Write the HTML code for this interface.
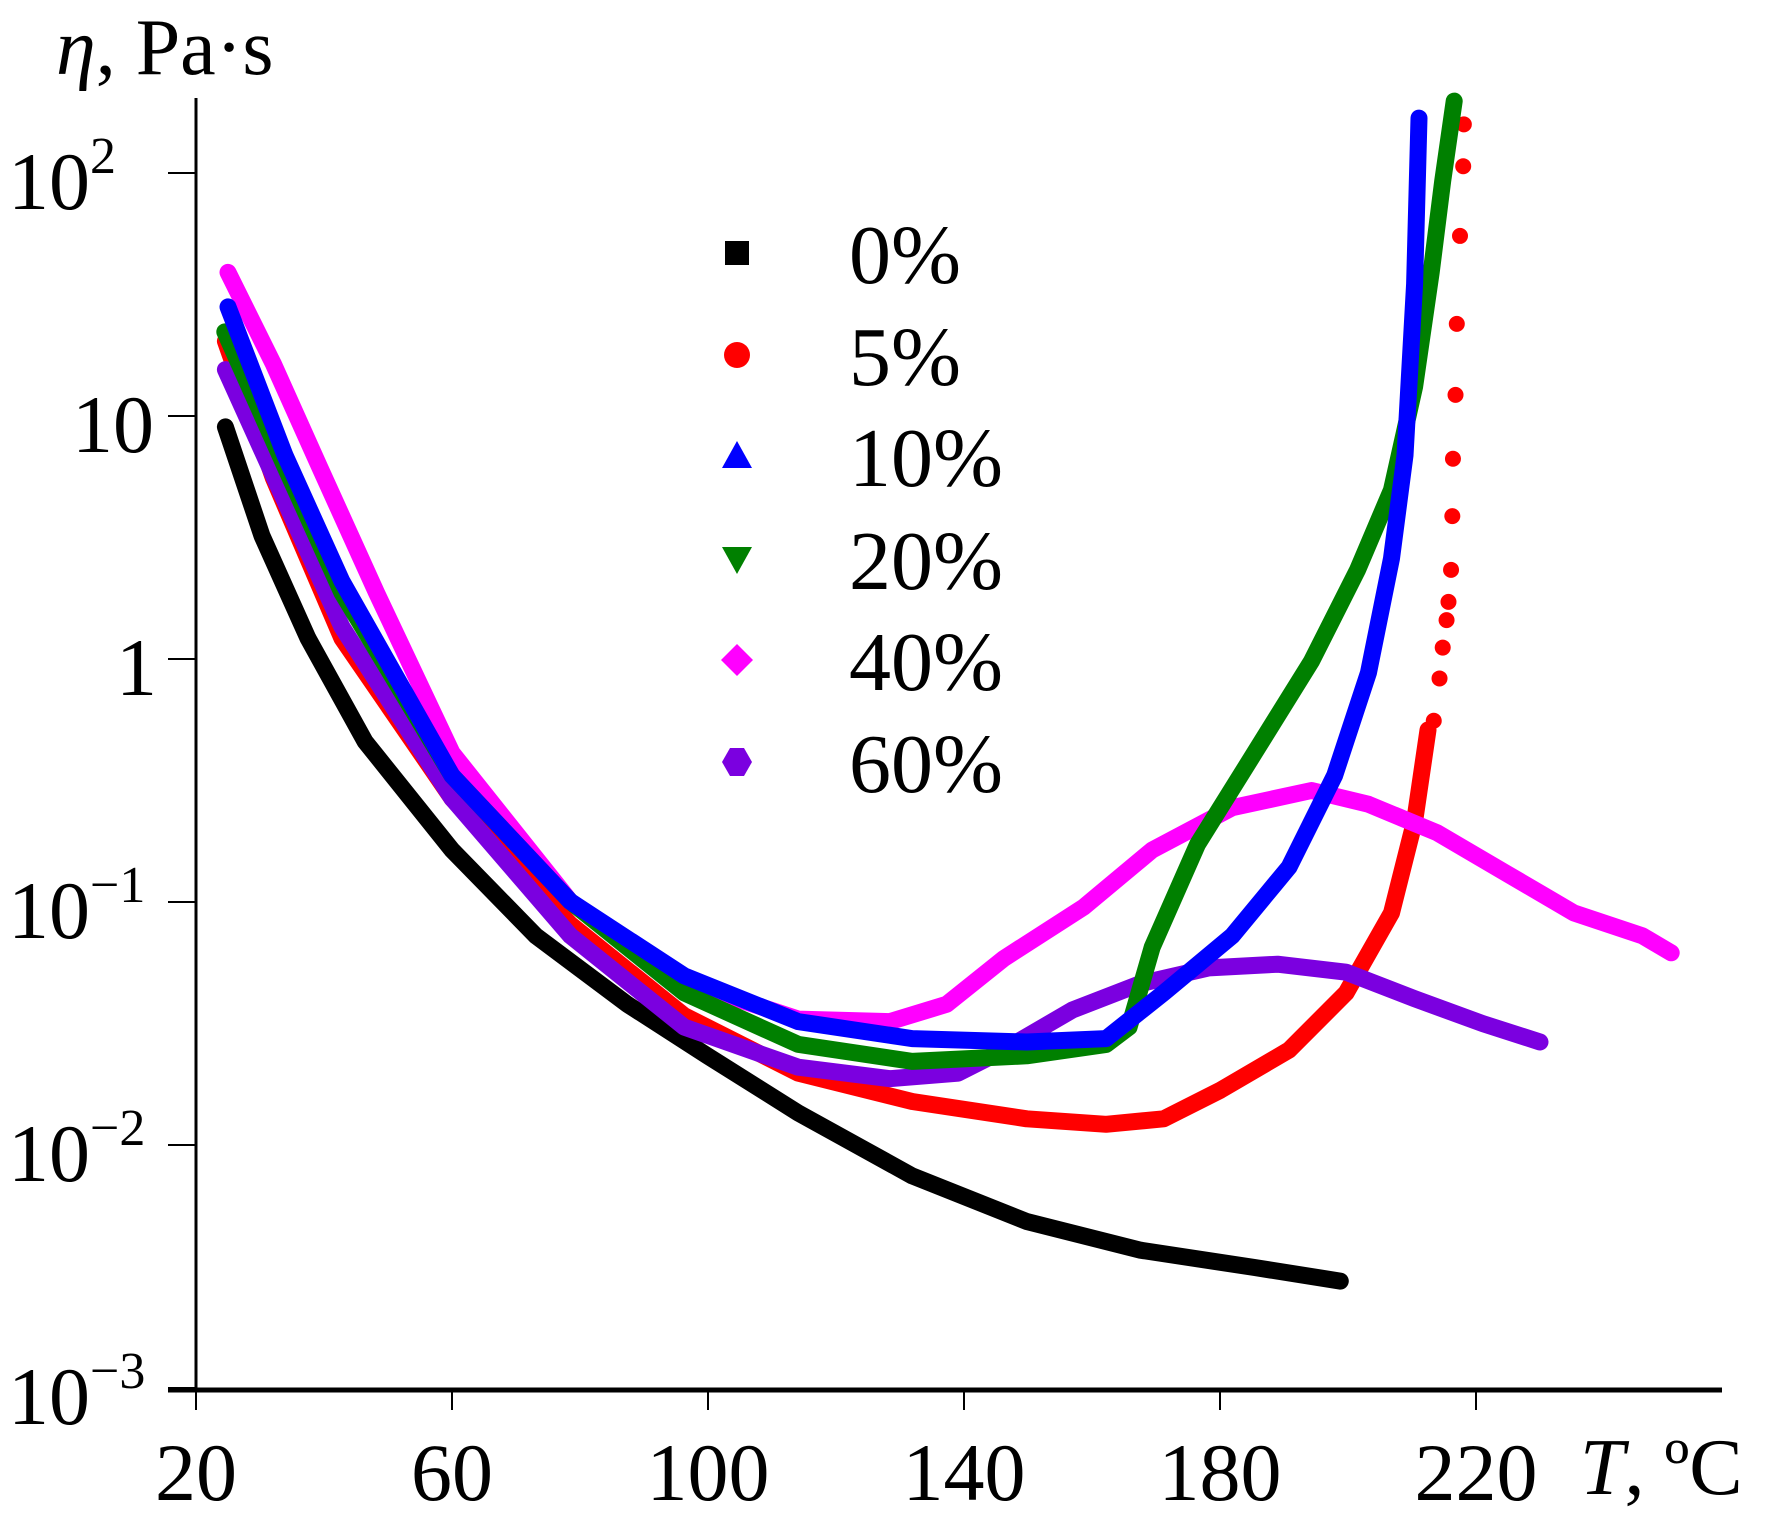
<!DOCTYPE html>
<html><head><meta charset="utf-8"><style>
body{margin:0;background:#fff;}
svg{display:block;font-family:"Liberation Serif",serif;}
</style></head><body>
<svg id="chart" width="1779" height="1528" viewBox="0 0 1779 1528" xmlns="http://www.w3.org/2000/svg">
<text x="56" y="74" font-size="80"><tspan font-style="italic">η</tspan>, Pa·s</text>
<text x="1580" y="1494" font-size="80"><tspan font-style="italic">T</tspan>, ºC</text>
<g id="axes"></g><g id="series"></g><g id="legend"></g>
</svg>
<script>
const xTicks=[20,60,100,140,180,220];
const yTickExp=[2,1,0,-1,-2,-3];
const seriesNames=["0%","5%","10%","20%","40%","60%"];
const seriesColors=["#000000","#ff0000","#0000ff","#008000","#ff00ff","#7b00e0"];
const t0=[24.6,30.3,37.5,46.4,60,73.1,87.4,99.9,114.1,131.9,149.8,167.6,185.4,198.8];
const l0=[0.955,0.508,0.085,-0.339,-0.786,-1.139,-1.421,-1.633,-1.868,-2.127,-2.315,-2.433,-2.504,-2.56];
const t5=[24.6,32.1,42.8,60,78.5,96.3,114.1,131.9,149.8,162.2,171.2,180.1,190.8,199.7,206.8,210.4,212.5];
const l5=[1.308,0.744,0.085,-0.574,-1.092,-1.468,-1.704,-1.821,-1.892,-1.915,-1.892,-1.774,-1.609,-1.374,-1.045,-0.668,-0.292];
const t5dots=[213.4,214.3,214.8,215.4,215.7,216.1,216.3,216.4,216.8,217,217.5,218,218.1];
const l5dots=[-0.254,-0.08,0.047,0.16,0.235,0.367,0.588,0.824,1.087,1.379,1.741,2.028,2.2];
const t10=[25,33.9,42.8,60,78.5,96.3,114.1,131.9,149.8,162.2,171.2,181.9,190.8,197.9,203.2,206.8,208.9,210.4,211.1];
const l10=[1.449,0.838,0.32,-0.48,-0.998,-1.304,-1.492,-1.562,-1.576,-1.562,-1.374,-1.139,-0.856,-0.48,-0.056,0.414,0.838,1.544,2.226];
const t20=[24.5,33.9,42.8,60,78.5,96.3,114.1,131.9,149.8,162.2,165.8,169.4,176.5,185.4,194.3,201.5,206.8,210.4,213,214.8,216.6];
const l20=[1.346,0.791,0.273,-0.48,-0.998,-1.374,-1.586,-1.656,-1.633,-1.586,-1.515,-1.186,-0.762,-0.386,-0.009,0.367,0.696,1.12,1.591,1.967,2.296];
const t40=[25,32.1,39.3,48.2,60,78.5,96.3,114.1,128.4,137.3,146.2,158.7,169.4,181.9,194.3,203.2,213.9,224.6,235.3,246,250.5];
const l40=[1.591,1.214,0.791,0.273,-0.386,-0.998,-1.327,-1.482,-1.492,-1.421,-1.233,-1.021,-0.786,-0.612,-0.541,-0.598,-0.715,-0.88,-1.045,-1.139,-1.209];
const t60=[24.6,33.9,42.8,60,78.5,96.3,114.1,128.4,139.1,146.2,156.9,167.6,178.3,189,199.7,210.4,221.1,230];
const l60=[1.191,0.649,0.132,-0.574,-1.139,-1.515,-1.68,-1.727,-1.704,-1.609,-1.445,-1.336,-1.271,-1.256,-1.289,-1.398,-1.501,-1.576];

const NS="http://www.w3.org/2000/svg";
const X=t=>196+(t-20)*256/40;
const Y=l=>173+(2-l)*243;
function mk(tag,attrs,parent){const e=document.createElementNS(NS,tag);for(const k in attrs)e.setAttribute(k,attrs[k]);parent.appendChild(e);return e;}
const axes=document.getElementById('axes');
let a=mk('line',{x1:196,y1:98,x2:196,y2:1390,stroke:'#000','stroke-width':3},axes);


a=mk('line',{x1:168,y1:1390,x2:1722,y2:1390,stroke:'#000','stroke-width':5},axes);


xTicks.forEach(t=>{
  const tk=mk('line',{x1:X(t),y1:1390,x2:X(t),y2:1410,stroke:'#000','stroke-width':2},axes);
  
  
  const tx=mk('text',{x:X(t),y:1500,'font-size':82,'text-anchor':'middle'},axes);
  tx.textContent=t;
  
  
});
yTickExp.forEach(e=>{
  const y=Y(e);
  const tk=mk('line',{x1:168,y1:y,x2:196,y2:y,stroke:'#000','stroke-width':2},axes);
  
  
  const tx=mk('text',{x:44,y:y+36,'font-size':82},axes);
  
  
  if(e===1){tx.setAttribute('x',72);tx.textContent='10';}
  else if(e===0){tx.setAttribute('x',116);tx.textContent='1';}
  else{tx.setAttribute('x',8);tx.textContent='10';const s=mk('tspan',{dy:-36,'font-size':52},tx);s.textContent=(e<0?'−':'')+Math.abs(e);}
});
const TT=[t0,t5,t10,t20,t40,t60],LL=[l0,l5,l10,l20,l40,l60];
const order=[0,1,5,4,3,2];
const sg=document.getElementById('series');
order.forEach(i=>{
  const pts=TT[i].map((t,j)=>X(t).toFixed(1)+','+Y(LL[i][j]).toFixed(1)).join(' ');
  const p=mk('polyline',{points:pts,fill:'none',stroke:seriesColors[i],'stroke-width':17,'stroke-linejoin':'round','stroke-linecap':'round'},sg);
  
  
  if(i===1){
    t5dots.forEach((t,j)=>{
      const d=mk('circle',{cx:X(t),cy:Y(l5dots[j]),r:8,fill:seriesColors[1]},sg);
      
      
    });
  }
});
const lg=document.getElementById('legend');
const ly=[253,355,456,559,660,762];
seriesNames.forEach((n,i)=>{
  const cx=737,cy=ly[i],c=seriesColors[i];let m;
  if(i===0)m=mk('rect',{x:cx-12,y:cy-12,width:24,height:24,fill:c},lg);
  else if(i===1)m=mk('circle',{cx:cx,cy:cy,r:13,fill:c},lg);
  else if(i===2)m=mk('polygon',{points:`${cx},${cy-15} ${cx+15},${cy+12} ${cx-15},${cy+12}`,fill:c},lg);
  else if(i===3)m=mk('polygon',{points:`${cx},${cy+15} ${cx+15},${cy-12} ${cx-15},${cy-12}`,fill:c},lg);
  else if(i===4)m=mk('polygon',{points:`${cx},${cy-16} ${cx+16},${cy} ${cx},${cy+16} ${cx-16},${cy}`,fill:c},lg);
  else m=mk('polygon',{points:`${cx-7},${cy-14} ${cx+7},${cy-14} ${cx+15},${cy} ${cx+7},${cy+14} ${cx-7},${cy+14} ${cx-15},${cy}`,fill:c},lg);
  
  
  const t=mk('text',{x:849,y:cy+30,'font-size':84},lg);
  t.textContent=n;
  
  
});
</script>
</body></html>
